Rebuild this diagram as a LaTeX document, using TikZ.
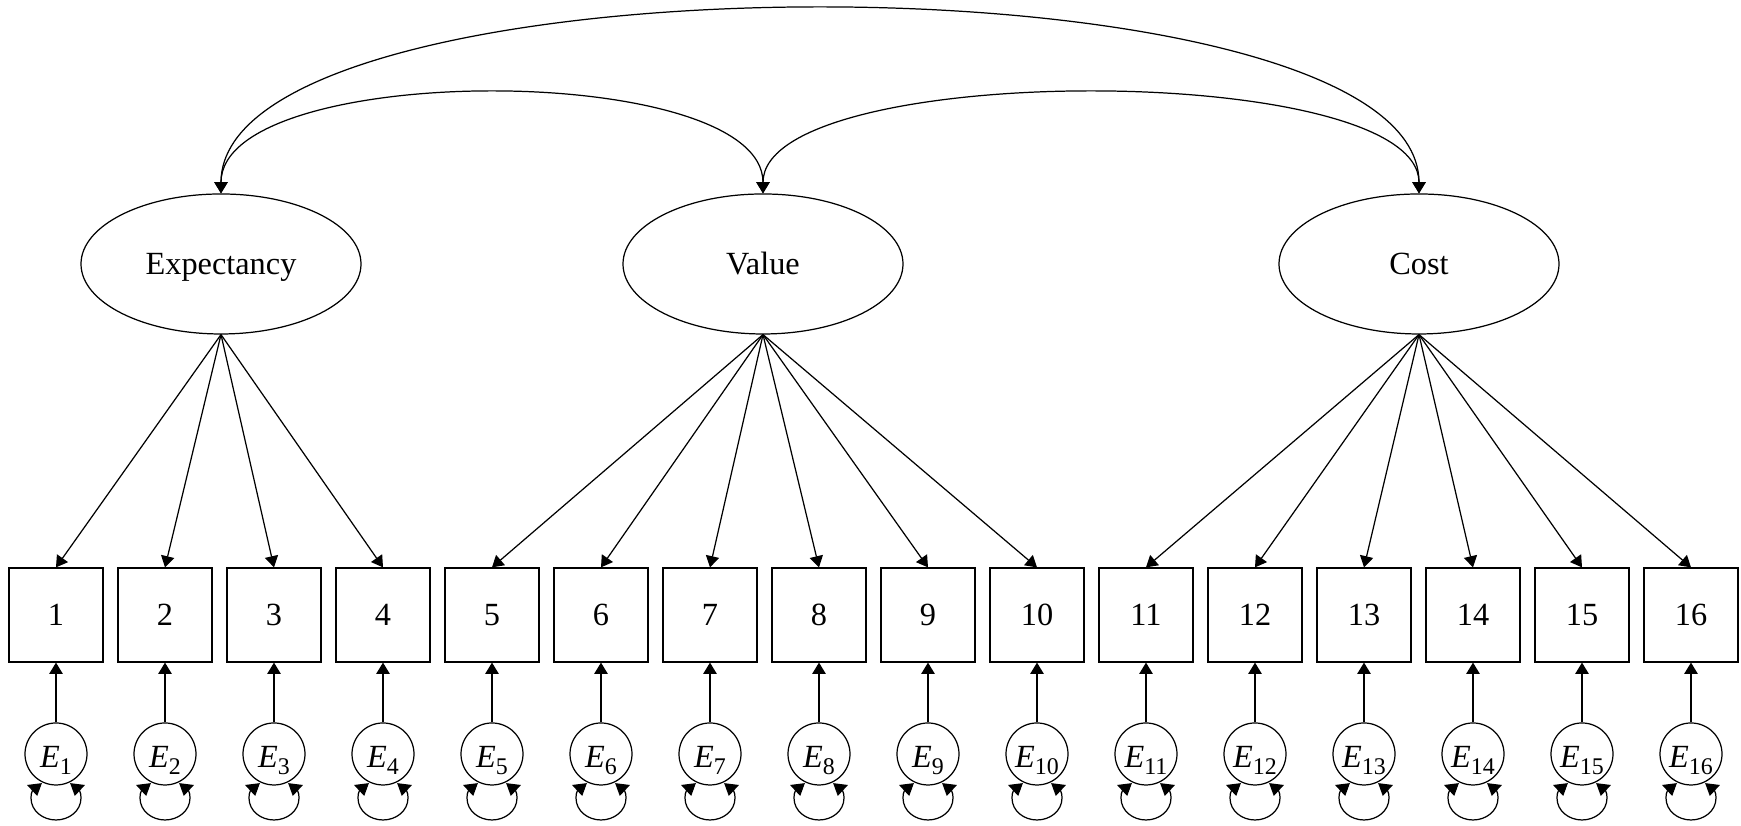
\documentclass[tikz,border=0pt]{standalone}
\usepackage{fontspec}
\setmainfont{Liberation Serif}
\usetikzlibrary{arrows.meta,shapes.geometric,calc}

\tikzset{
  latent/.style={draw, ellipse, minimum width=28mm, minimum height=14mm, text height=6pt, text depth=0pt, font=\fontsize{9.2}{11}\selectfont},
  item/.style={draw, rectangle, minimum size=9.4mm, inner sep=0pt, font=\fontsize{9.2}{11}\selectfont},
  err/.style={draw, circle, minimum size=6.2mm, inner sep=0pt, text height=7.5pt, text depth=0pt, font=\fontsize{9.2}{11}\selectfont},
  var/.style={<->, >={Triangle[length=3.8pt,width=3.8pt]}},
  >={Triangle[length=3.2pt,width=3.8pt]}
}
\newcommand{\errlabel}[1]{\textit{E}\raisebox{-0.5ex}{\fontsize{6.8}{7}\selectfont #1}}

\begin{document}
\begin{tikzpicture}[x=0.1mm, y=0.1mm, line width=0.35pt]
  \useasboundingbox (0,0) rectangle (1741,826);

  % Latent factors
  \node[latent] (exp) at (221,562) {Expectancy};
  \node[latent] (val) at (763,562) {Value};
  \node[latent] (cost) at (1419,562) {Cost};

  % Factor covariances
  \draw[<->] (exp.north) .. controls +(0,133) and +(0,133) .. (val.north);
  \draw[<->] (val.north) .. controls +(0,133) and +(0,133) .. (cost.north);
  \draw[<->] (exp.north) .. controls +(0,245) and +(0,245) .. (cost.north);

  % Items, error terms and their variances
  \foreach \i in {1,...,16} {
    \node[item] (x\i) at ({56+109*(\i-1)},211) {\i};
    \node[err] (e\i) at ({56+109*(\i-1)},72) {\errlabel{\i}};
    \draw[->] (e\i) -- (x\i);
    \draw[var] ([shift={(-29,-31)}]e\i.center) to[out=-20,in=90] ([shift={(-25,-44)}]e\i.center)
      to[out=-90,in=180] ([shift={(0,-66)}]e\i.center) to[out=0,in=-90] ([shift={(25,-44)}]e\i.center)
      to[out=90,in=-160] ([shift={(29,-31)}]e\i.center);
  }

  % Loadings
  \foreach \i in {1,...,4} \draw[->] (exp.south) -- (x\i.north);
  \foreach \i in {5,...,10} \draw[->] (val.south) -- (x\i.north);
  \foreach \i in {11,...,16} \draw[->] (cost.south) -- (x\i.north);

\end{tikzpicture}
\end{document}
